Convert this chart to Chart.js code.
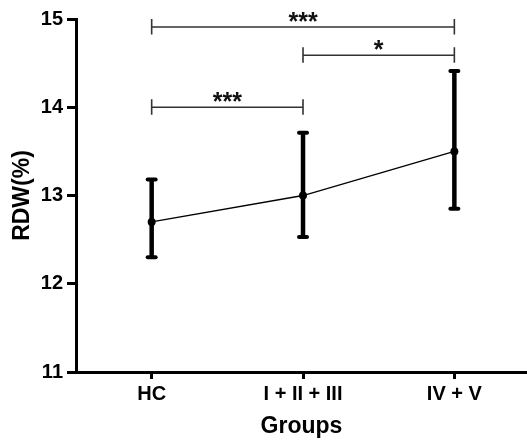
<!DOCTYPE html>
<html>
<head>
<meta charset="utf-8">
<script src="https://cdn.jsdelivr.net/npm/chart.js@4/dist/chart.umd.min.js"></script>
<style>
  html, body { margin: 0; padding: 0; background: #ffffff; }
  #wrap { width: 527px; height: 440px; }
</style>
</head>
<body>
<div id="wrap"><canvas id="c" width="527" height="440"></canvas></div>
<script>
// ---- data ----
const categories = ['HC', 'I + II + III', 'IV + V'];
const means = [12.7, 13.0, 13.5];
const errLow = [12.3, 12.53, 12.85];
const errHigh = [13.18, 13.71, 14.41];
const yTicks = [11, 12, 13, 14, 15];
const bracketFrom = [0, 1, 0];
const bracketTo = [2, 2, 1];
const bracketLevel = [14.91, 14.59, 14.0];
const bracketLabels = ['***', '*', '***'];

const FONT = "'Liberation Sans', Arial, sans-serif";

const errorBarPlugin = {
  id: 'errorBars',
  beforeDatasetsDraw(chart) {
    const ctx = chart.ctx;
    const xs = chart.scales.x, ys = chart.scales.y;
    ctx.save();
    ctx.strokeStyle = '#000';
    categories.forEach((c, i) => {
      const x = xs.getPixelForValue(i);
      const yl = ys.getPixelForValue(errLow[i]);
      const yh = ys.getPixelForValue(errHigh[i]);
      ctx.lineCap = 'butt';
      ctx.lineWidth = 4.5;
      ctx.beginPath();
      ctx.moveTo(x, yl);
      ctx.lineTo(x, yh);
      ctx.stroke();
      ctx.lineCap = 'round';
      ctx.lineWidth = 4;
      [yl, yh].forEach(y => {
        ctx.beginPath();
        ctx.moveTo(x - 4, y);
        ctx.lineTo(x + 4, y);
        ctx.stroke();
      });
    });
    ctx.restore();
  },
  afterDatasetsDraw(chart) {
    const ctx = chart.ctx;
    const xs = chart.scales.x, ys = chart.scales.y;
    ctx.save();
    bracketFrom.forEach((f, k) => {
      const x1 = xs.getPixelForValue(f);
      const x2 = xs.getPixelForValue(bracketTo[k]);
      const y = ys.getPixelForValue(bracketLevel[k]);
      ctx.strokeStyle = '#333';
      ctx.lineWidth = 1.6;
      ctx.lineCap = 'butt';
      ctx.beginPath();
      ctx.moveTo(x1, y); ctx.lineTo(x2, y);
      ctx.moveTo(x1, y - 8); ctx.lineTo(x1, y + 7.5);
      ctx.moveTo(x2, y - 8); ctx.lineTo(x2, y + 7.5);
      ctx.stroke();
      ctx.fillStyle = '#111';
      ctx.font = 'bold 25px ' + FONT;
      ctx.textAlign = 'center';
      ctx.textBaseline = 'alphabetic';
      ctx.fillText(bracketLabels[k], (x1 + x2) / 2, y + 3);
    });
    ctx.restore();
  }
};

const bgPlugin = {
  id: 'bg',
  beforeDraw(chart) {
    const ctx = chart.ctx;
    ctx.save();
    ctx.fillStyle = '#ffffff';
    ctx.fillRect(0, 0, chart.width, chart.height);
    ctx.restore();
  }
};

new Chart(document.getElementById('c'), {
  type: 'line',
  data: {
    datasets: [{
      data: means.map((m, i) => ({ x: i, y: m })),
      borderColor: '#000',
      borderWidth: 1.3,
      pointRadius: 4,
      pointBackgroundColor: '#000',
      pointBorderColor: '#000',
      pointBorderWidth: 0,
      tension: 0,
      fill: false
    }]
  },
  options: {
    responsive: false,
    animation: false,
    layout: { autoPadding: false, padding: { top: 19, right: 0, bottom: 0, left: 0 } },
    plugins: { legend: { display: false }, tooltip: { enabled: false } },
    scales: {
      x: {
        type: 'linear',
        min: -0.5,
        max: 2.48,
        afterBuildTicks(scale) { scale.ticks = categories.map((c, i) => ({ value: i })); },
        afterFit(scale) { scale.height = 68; scale.paddingRight = 0; scale.paddingLeft = 0; },
        ticks: {
          callback: (v) => categories[v],
          color: '#000',
          font: { family: FONT, size: 20, weight: 'bold' },
          padding: 3,
          maxRotation: 0,
          autoSkip: false
        },
        grid: { drawOnChartArea: false, drawTicks: true, tickLength: 7, tickWidth: 3, tickColor: '#000' },
        border: { display: true, width: 3, color: '#000' },
        title: {
          display: true, text: 'Groups', color: '#000',
          font: { family: FONT, size: 23, weight: 'bold' },
          padding: { top: 0, bottom: 0 }
        }
      },
      y: {
        min: 11,
        max: 15,
        afterBuildTicks(scale) { scale.ticks = yTicks.map(v => ({ value: v })); },
        afterFit(scale) { scale.width = 76; },
        ticks: {
          color: '#000',
          font: { family: FONT, size: 20, weight: 'bold' },
          padding: 4
        },
        grid: { drawOnChartArea: false, drawTicks: true, tickLength: 9, tickWidth: 3, tickColor: '#000' },
        border: { display: true, width: 3, color: '#000' },
        title: {
          display: true, text: 'RDW(%)', color: '#000',
          font: { family: FONT, size: 23, weight: 'bold' },
          padding: { top: 9, bottom: 0 }
        }
      }
    }
  },
  plugins: [bgPlugin, errorBarPlugin]
});
</script>
</body>
</html>
